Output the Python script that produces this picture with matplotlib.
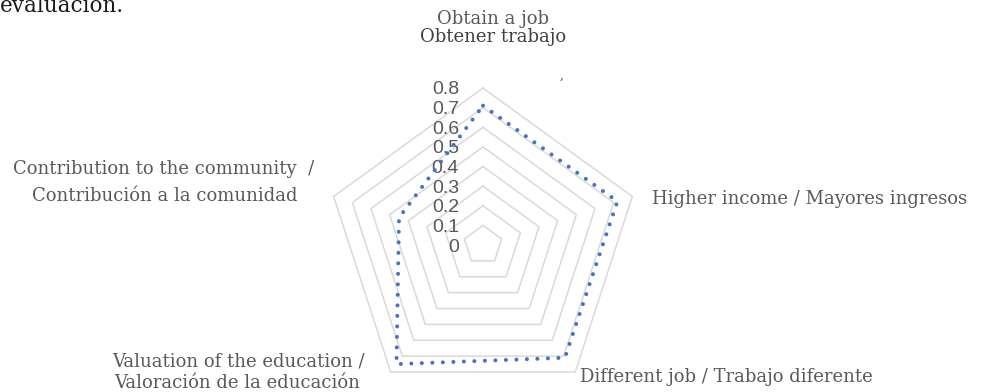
import numpy as np
import matplotlib
matplotlib.use("Agg")
import matplotlib.pyplot as plt
from matplotlib import transforms

# ---- data ----
categories = [
    "Obtain a job / Obtener trabajo",
    "Higher income / Mayores ingresos",
    "Different job / Trabajo diferente",
    "Valuation of the education / Valoración de la educación",
    "Contribution to the community / Contribución a la comunidad",
]
values = [0.71, 0.72, 0.71, 0.75, 0.45]
levels = [0.1, 0.2, 0.3, 0.4, 0.5, 0.6, 0.7, 0.8]
tick_labels = ["0", "0.1", "0.2", "0.3", "0.4", "0.5", "0.6", "0.7", "0.8"]
tick_values = [0.0] + levels

W, H = 981, 392
fig = plt.figure(figsize=(W / 100, H / 100), dpi=100)

cx, cy, R = 483, 245, 157  # pixel centre and outer radius
ax = fig.add_axes([(cx - R) / W, (H - cy - R) / H, 2 * R / W, 2 * R / H],
                  projection="polar")
ax.set_theta_zero_location("N")
ax.set_theta_direction(-1)
ax.set_ylim(0, 0.8)
ax.grid(False)
ax.spines["polar"].set_visible(False)
ax.set_xticks([])
ax.set_yticks([])
ax.patch.set_alpha(0)

n = len(categories)
angles = np.linspace(0, 2 * np.pi, n, endpoint=False)
closed_angles = np.concatenate([angles, angles[:1]])

grid_col = "#D9D9D9"
for lv in levels:
    ax.plot(closed_angles, [lv] * (n + 1), color=grid_col, lw=1.1,
            solid_joinstyle="miter", zorder=1, clip_on=False)

vals = np.array(values + values[:1])
ax.plot(closed_angles, vals, color="#4472C4", lw=2.9,
        linestyle=(0, (0.01, 2.6)), dash_capstyle="round", zorder=3,
        clip_on=False)

# radial tick labels
off = transforms.offset_copy(ax.transData, fig=fig, x=-24, y=0, units="dots")
for tv, tl in zip(tick_values, tick_labels):
    ax.text(0, tv, tl, transform=off, ha="right", va="center_baseline",
            fontsize=14, color="#595959", family="Liberation Sans",
            zorder=2, clip_on=False)

# category labels (figure pixel coordinates, y = baseline from top)
serif = "DejaVu Serif"
lab_fs = 13
def ftext(x, y, s, color="#595959", **kw):
    fig.text(x / W, 1 - y / H, s, fontsize=lab_fs, color=color,
             family=serif, va="baseline", **kw)

ftext(493, 23.5, "Obtain a job", ha="center")
ftext(493, 42.5, "Obtener trabajo", color="#404040", ha="center")
ftext(652, 204, "Higher income / Mayores ingresos", ha="left")
ftext(580, 381.5, "Different job / Trabajo diferente", ha="left")
ftext(238, 366, "Valuation of the education /", ha="center")
ftext(237, 388, "Valoración de la educación", ha="center")
ftext(164, 174, "Contribution to the community  /", ha="center")
ftext(165, 200.5, "Contribución a la comunidad", ha="center")

# fragment of title cut at top, and stray mark
fig.text(0 / W, 1 - 12 / H, "evaluación.", fontsize=15.5, color="#1a1a1a",
         family=serif, ha="left", va="baseline")
fig.text(562 / W, 1 - 75 / H, ",", fontsize=9, color="#404040",
         family=serif, ha="center", va="center")

fig.savefig("out.png", dpi=100)
